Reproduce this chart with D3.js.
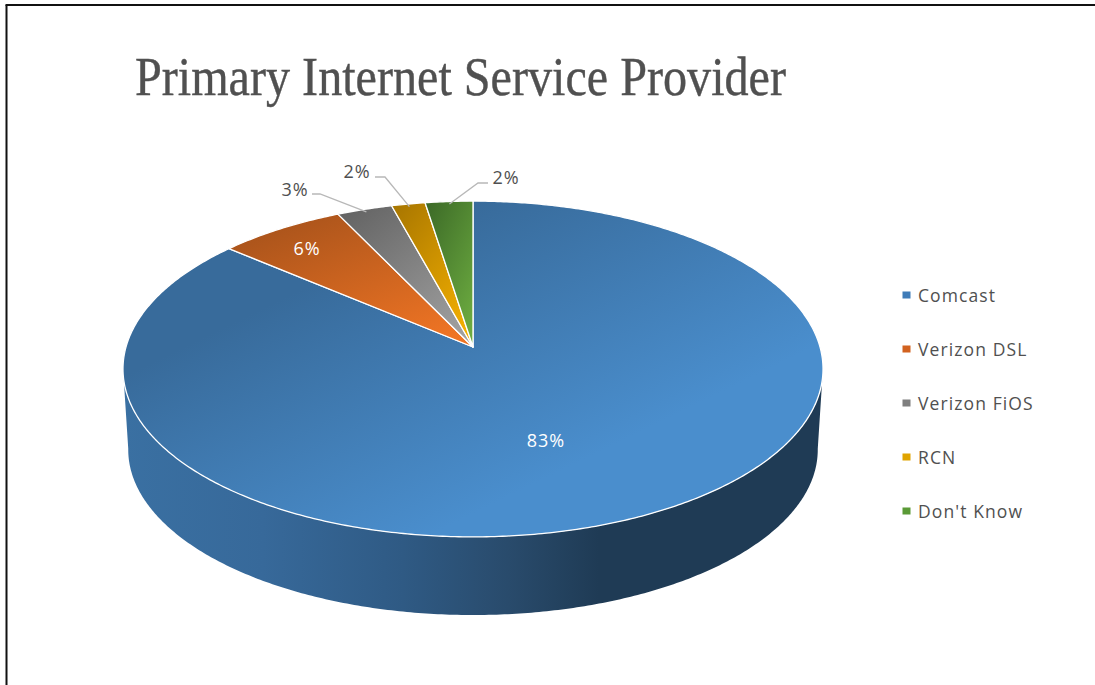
<!DOCTYPE html>
<html>
<head>
<meta charset="utf-8">
<script src="https://cdn.jsdelivr.net/npm/d3@7/dist/d3.min.js"></script>
<style>
html,body{margin:0;padding:0;background:#fff;overflow:hidden}
svg{display:block}
</style>
</head>
<body>
<svg id="chart" width="1095" height="685"></svg>
<script>
const titleText = "Primary Internet Service Provider";
const categories = ["Comcast", "Verizon DSL", "Verizon FiOS", "RCN", "Don't Know"];
const shares = [83, 6.4, 2.8, 1.7, 2.4];
const shareLabels = ["83%", "6%", "3%", "2%", "2%"];
const gradientDark = ["#386b9b", "#a2501a", "#626262", "#a87600", "#3c6a27"];
const gradientLight = ["#4a8ecd", "#ef7424", "#a0a0a0", "#f4b000", "#6cab40"];
const legendSwatch = ["#3f7cb8", "#d2621f", "#7f7f7f", "#e0a400", "#5a9a36"];

const W = 1095, H = 685;
const svg = d3.select("#chart");
const defs = svg.append("defs");

// Perspective view of the flat pie disc
const apex = {x: 473, y: 347};
const tilt = 0.131, spreadX = 347, spreadY = 165;
const depthShift = 81, depthScale = 0.985;
function project(angle, r = 1, level = 0) {
  const u = r * Math.sin(angle), v = -r * Math.cos(angle);
  const w = 1 - tilt * v;
  const s = level ? depthScale : 1;
  return [apex.x + s * spreadX * u / w, apex.y + level * depthShift + s * spreadY * v / w];
}
const line = d3.line();
function arcPoints(a0, a1, level = 0) {
  const n = Math.max(2, Math.ceil(Math.abs(a1 - a0) / 0.01));
  return d3.range(n + 1).map(i => project(a0 + (a1 - a0) * i / n, 1, level));
}

const arcs = d3.pie().sort(null).value(d => d)(shares);

// Gradients for the slices
categories.forEach((c, i) => {
  const g = defs.append("linearGradient").attr("id", "slice" + i);
  if (i === 0) {
    g.attr("gradientUnits", "userSpaceOnUse")
      .attr("x1", 300).attr("y1", 290).attr("x2", 422).attr("y2", 539);
  } else {
    g.attr("gradientUnits", "objectBoundingBox")
      .attr("x1", 0.05).attr("y1", 0).attr("x2", 0.8).attr("y2", 1);
  }
  g.append("stop").attr("offset", "0%").attr("stop-color", gradientDark[i]);
  g.append("stop").attr("offset", "100%").attr("stop-color", gradientLight[i]);
});

// Side wall gradient
const sideGrad = defs.append("linearGradient").attr("id", "side")
  .attr("gradientUnits", "userSpaceOnUse")
  .attr("x1", 123).attr("x2", 823).attr("y1", 0).attr("y2", 0);
[[0, "#3a70a2"], [0.2, "#37699a"], [0.4, "#2f5a84"], [0.55, "#294b6c"], [0.68, "#1f3b55"], [1, "#1f3b55"]]
  .forEach(([o, c]) => sideGrad.append("stop").attr("offset", o).attr("stop-color", c));

// Frame
svg.append("rect").attr("width", W).attr("height", H).attr("fill", "#fff");
svg.append("line").attr("x1", 5.5).attr("x2", W).attr("y1", 5).attr("y2", 5).attr("stroke", "#111").attr("stroke-width", 2);
svg.append("line").attr("x1", 6.5).attr("x2", 6.5).attr("y1", 5).attr("y2", H).attr("stroke", "#111").attr("stroke-width", 2);

// Title
svg.append("text").attr("x", 135).attr("y", 95).text(titleText)
  .attr("font-family", "'Liberation Serif', serif").attr("font-size", 54)
  .attr("fill", "#505050").attr("stroke", "#505050").attr("stroke-width", 0.4)
  .attr("textLength", 651).attr("lengthAdjust", "spacingAndGlyphs");

// Side wall
const sideStart = Math.PI * 0.54, sideEnd = Math.PI * 1.46;
const sidePts = arcPoints(sideStart, sideEnd, 0).concat(arcPoints(sideEnd, sideStart, 1));
svg.append("path").attr("d", line(sidePts) + "Z").attr("fill", "url(#side)");

// Top slices
svg.append("g").selectAll("path").data(arcs).join("path")
  .attr("d", d => line([[apex.x, apex.y], ...arcPoints(d.startAngle, d.endAngle)]) + "Z")
  .attr("fill", (d, i) => `url(#slice${i})`)
  .attr("stroke", "#fff").attr("stroke-width", 1.3).attr("stroke-linejoin", "round");

// Leader lines (elbow positions are layout only; the far end comes from the slice)
const leaderLayout = [null, null,
  {label: [295, 189], elbow: [[312, 194], [320, 194]]},
  {label: [357, 171], elbow: [[375, 177], [385, 177]]},
  {label: [506, 177], elbow: [[488, 183], [478, 183]]}];
const insideLayout = [[546, 440], [307, 248]];

arcs.forEach((d, i) => {
  const lay = leaderLayout[i];
  if (!lay) return;
  const mid = (d.startAngle + d.endAngle) / 2;
  svg.append("path").attr("d", line([...lay.elbow, project(mid, 0.98)]))
    .attr("fill", "none").attr("stroke", "#b8b8b8").attr("stroke-width", 1.3);
});

// Data labels
const labelFont = "'Open Sans', sans-serif";
svg.append("g").selectAll("text").data(arcs).join("text")
  .attr("x", (d, i) => i < 2 ? insideLayout[i][0] : leaderLayout[i].label[0])
  .attr("y", (d, i) => i < 2 ? insideLayout[i][1] : leaderLayout[i].label[1])
  .attr("text-anchor", "middle").attr("dominant-baseline", "central")
  .attr("font-family", labelFont).attr("font-size", 18).attr("letter-spacing", 1)
  .attr("fill", (d, i) => i < 2 ? "#fff" : "#505050")
  .text((d, i) => shareLabels[i]);

// Legend
const legendY = d3.scalePoint().domain(categories).range([295, 511]);
const legend = svg.append("g").selectAll("g").data(categories).join("g");
legend.append("rect").attr("x", 902.5).attr("y", d => legendY(d) - 3.5)
  .attr("width", 8).attr("height", 7).attr("fill", (d, i) => legendSwatch[i]);
legend.append("text").attr("x", 918).attr("y", d => legendY(d))
  .attr("dominant-baseline", "central")
  .attr("font-family", labelFont).attr("font-size", 17.5).attr("letter-spacing", 1.1)
  .attr("fill", "#505050").text(d => d);
</script>
</body>
</html>
